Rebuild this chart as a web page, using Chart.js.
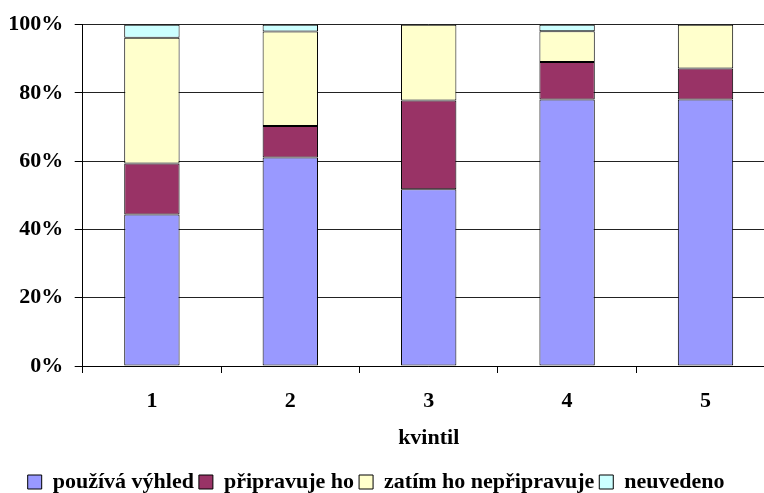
<!DOCTYPE html>
<html>
<head>
<meta charset="utf-8">
<script src="https://cdn.jsdelivr.net/npm/chart.js@4/dist/chart.umd.min.js"></script>
<style>
  html, body { margin: 0; padding: 0; background: #fff; overflow: hidden; }
  #wrap { width: 780px; height: 493px; }
</style>
</head>
<body>
<div id="wrap"><canvas id="c" width="780" height="493"></canvas></div>
<script>
// Kvintily a podíly odpovědí (v %)
const kvintily = ['1', '2', '3', '4', '5'];
const pouzivaVyhled = [44.4, 61.1, 51.8, 78.1, 78.1];
const pripravujeHo = [14.9, 9.2, 26.0, 11.0, 9.1];
const zatimNepripravuje = [36.9, 27.7, 22.2, 9.0, 12.8];
const neuvedeno = [3.8, 2.0, 0.0, 1.9, 0.0];
const osaY = [0, 20, 40, 60, 80, 100];

const FONT = { family: '"Liberation Serif", "Times New Roman", serif', size: 22, weight: 'bold' };

const ds = (label, data, color) => ({
  label, data,
  backgroundColor: color,
  borderColor: '#000',
  borderWidth: 1,
  borderSkipped: false,
  barPercentage: 0.4,
  categoryPercentage: 1.0
});

// posune legendu doprava, aby začínala u levého okraje grafu
const posunLegendy = {
  id: 'posunLegendy',
  afterLayout(chart) {
    if (chart.legend) {
      chart.legend.left += 22.7;
      chart.legend.right += 22.7;
    }
  }
};

new Chart(document.getElementById('c'), {
  type: 'bar',
  data: {
    labels: kvintily,
    datasets: [
      ds('používá výhled', pouzivaVyhled, '#9999FF'),
      ds('připravuje ho', pripravujeHo, '#993366'),
      ds('zatím ho nepřipravuje', zatimNepripravuje, '#FFFFCC'),
      ds('neuvedeno', neuvedeno, '#CCFFFF')
    ]
  },
  plugins: [posunLegendy],
  options: {
    responsive: false,
    animation: false,
    layout: { padding: { left: 0, right: 5.3, top: 24, bottom: 0 } },
    plugins: {
      tooltip: { enabled: false },
      legend: {
        position: 'bottom',
        align: 'start',
        maxHeight: 27,
        labels: {
          font: FONT,
          color: '#000',
          boxWidth: 14,
          boxHeight: 14,
          padding: 5
        }
      }
    },
    scales: {
      x: {
        stacked: true,
        offset: true,
        grid: {
          display: true,
          drawOnChartArea: false,
          drawTicks: true,
          tickLength: 7,
          offset: true,
          color: '#000',
          tickColor: '#000'
        },
        border: { display: true, color: '#000', width: 1 },
        ticks: { font: FONT, color: '#000', padding: 15, maxRotation: 0 },
        title: { display: true, text: 'kvintil', font: FONT, color: '#000', padding: { top: 0, bottom: 14 } },
        afterFit: (s) => { s.height = 100; }
      },
      y: {
        stacked: true,
        min: osaY[0],
        max: osaY[osaY.length - 1],
        afterBuildTicks: (s) => { s.ticks = osaY.map(v => ({ value: v })); },
        grid: {
          color: '#222',
          tickColor: '#000',
          tickLength: 8,
          lineWidth: 1
        },
        border: { display: true, color: '#000', width: 1 },
        ticks: {
          font: FONT,
          color: '#000',
          padding: 11.5,
          callback: (v) => v + '%'
        },
        afterFit: (s) => { s.width = 82.7; }
      }
    }
  }
});
</script>
</body>
</html>
